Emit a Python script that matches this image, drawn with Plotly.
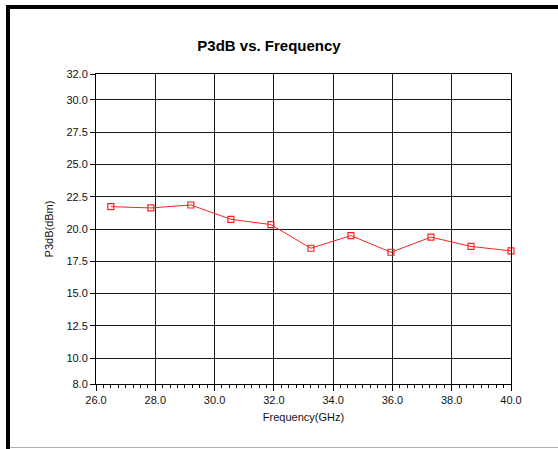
import plotly.graph_objects as go

# data
freq_ghz = [26.5, 27.85, 29.2, 30.55, 31.9, 33.25, 34.6, 35.95, 37.3, 38.65, 40.0]
p3db_dbm = [21.73, 21.63, 21.86, 20.75, 20.34, 18.51, 19.49, 18.2, 19.37, 18.65, 18.31]
y_ticks = [8.0, 10.0, 12.5, 15.0, 17.5, 20.0, 22.5, 25.0, 27.5, 30.0, 32.0]

W, H = 558, 449
L, R, T, B = 96, 511, 74, 384
FONT = "Liberation Sans, Arial, sans-serif"


def px(x):
    return (x - L) / (R - L)


def py(y):
    return (B - y) / (B - T)


fig = go.Figure(
    data=[
        go.Scatter(
            x=freq_ghz, y=p3db_dbm, mode="lines+markers",
            line=dict(color="#ff2020", width=1),
            marker=dict(symbol="square-open", size=6, color="#ff2020", line=dict(width=1.2)),
            cliponaxis=False, showlegend=False,
        )
    ]
)

axis_common = dict(
    showline=True, linecolor="black", linewidth=1, mirror=True,
    showgrid=True, gridcolor="#1a1a1a", gridwidth=1.2,
    ticks="outside", tickcolor="black", tickwidth=1,
    tickfont=dict(family=FONT, size=11, color="#111111"),
    zeroline=False,
)

fig.update_xaxes(
    range=[26, 40], dtick=2, tick0=26, tickformat=".1f", ticklen=6,
    minor=dict(dtick=0.25, ticks="outside", ticklen=3, tickcolor="black", showgrid=False),
    title=dict(text="Frequency(GHz)", font=dict(family=FONT, size=11, color="#111111"), standoff=8),
    **axis_common,
)
fig.update_yaxes(
    range=[8, 32], tickvals=y_ticks, ticktext=["%.1f" % v for v in y_ticks], ticklen=5,
    title=dict(text="P3dB(dBm)", font=dict(family=FONT, size=11, color="#111111"), standoff=10),
    **axis_common,
)

fig.update_layout(
    width=W, height=H,
    margin=dict(l=L, r=W - R, t=T, b=H - B),
    paper_bgcolor="white", plot_bgcolor="white",
    title=dict(text="<b>P3dB vs. Frequency</b>", x=px(269), xref="paper", xanchor="center",
               y=1 - 46 / H, yanchor="middle", font=dict(family=FONT, size=15, color="black")),
    shapes=[
        # window frame
        dict(type="rect", xref="paper", yref="paper", x0=px(6), x1=px(10), y0=py(449), y1=py(5),
             fillcolor="black", line=dict(width=0), layer="above"),
        dict(type="rect", xref="paper", yref="paper", x0=px(6), x1=px(558), y0=py(9), y1=py(5),
             fillcolor="black", line=dict(width=0), layer="above"),
        dict(type="line", xref="paper", yref="paper", x0=px(10), x1=px(558), y0=py(447.5), y1=py(447.5),
             line=dict(color="#b0b0b0", width=1)),
    ],
)

# drop the browser's default 8px body margin so the figure sits at 0,0
fig.write_html("out.html", config={"displayModeBar": False},
               post_script="document.body.style.margin='0';")
